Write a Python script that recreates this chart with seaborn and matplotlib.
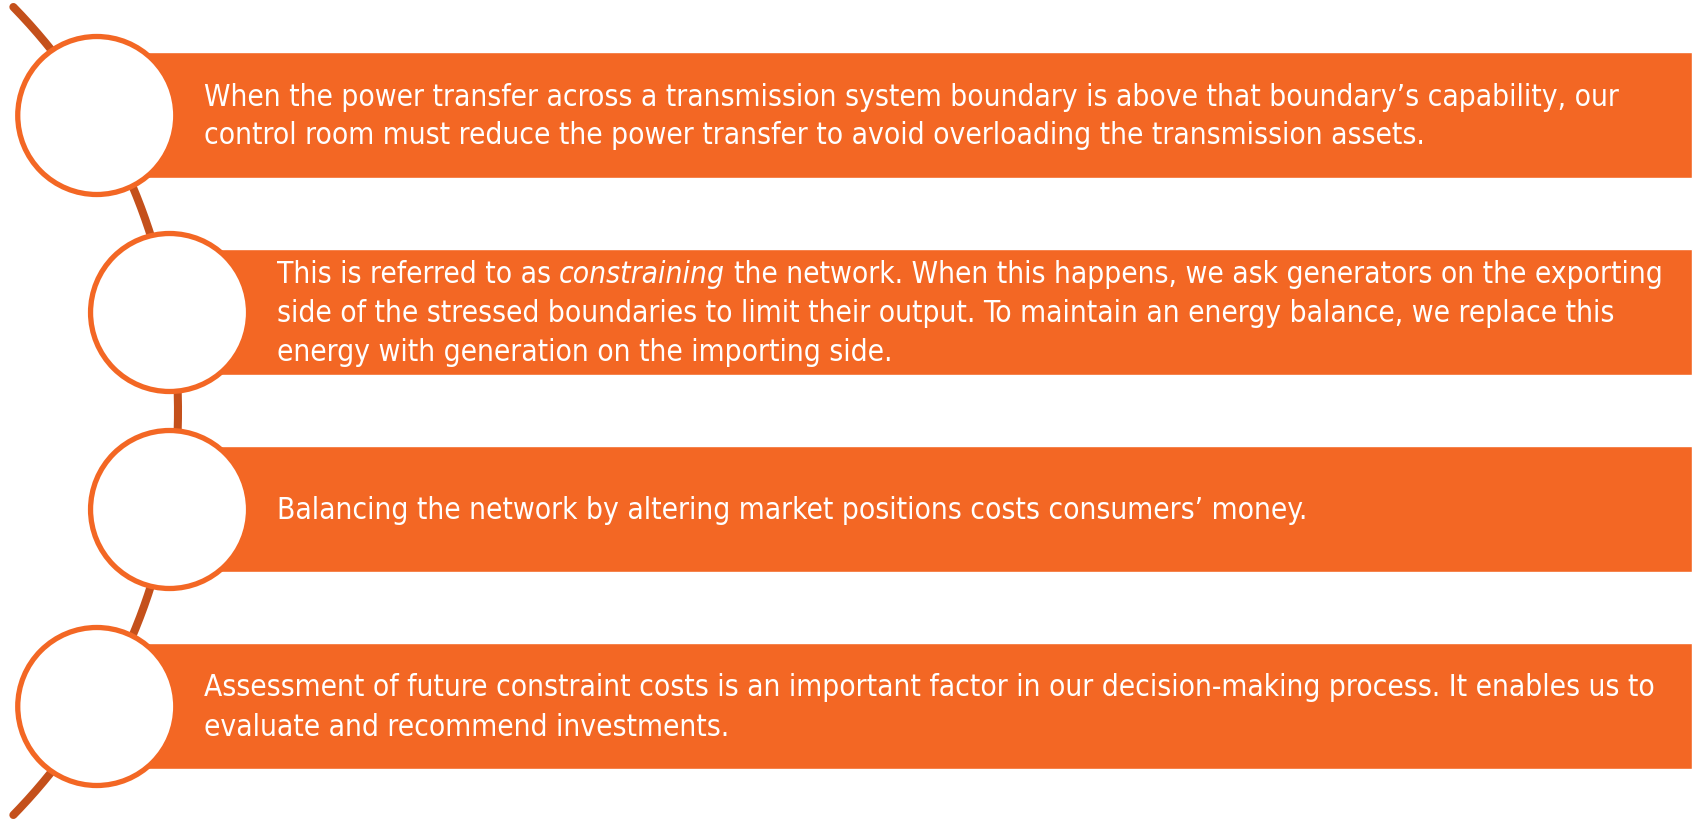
import numpy as np
import matplotlib
matplotlib.use("Agg")
import matplotlib.pyplot as plt
import seaborn as sns
from matplotlib import font_manager
from matplotlib.patches import Circle

# the four statements, one list per box, *...* marks italic words
statements = [
    ["When the power transfer across a transmission system boundary is above that boundary\u2019s capability, our",
     "control room must reduce the power transfer to avoid overloading the transmission assets."],
    ["This is referred to as *constraining* the network. When this happens, we ask generators on the exporting",
     "side of the stressed boundaries to limit their output. To maintain an energy balance, we replace this",
     "energy with generation on the importing side."],
    ["Balancing the network by altering market positions costs consumers\u2019 money."],
    ["Assessment of future constraint costs is an important factor in our decision-making process. It enables us to",
     "evaluate and recommend investments."],
]

orange = "#F36724"
arc_color = "#C4501B"

# narrow sans if we have one
fonts = font_manager.fontManager.ttflist
font_kw = dict(family="Liberation Sans")
if any(f.name == "Liberation Sans Narrow" for f in fonts):
    font_kw = dict(family="Liberation Sans Narrow")
elif any(f.name == "DejaVu Sans" and f.stretch == "condensed" for f in fonts):
    font_kw = dict(family="DejaVu Sans", stretch="condensed")

sns.set_theme(style="white")
plt.rcParams["font.family"] = [font_kw["family"], "DejaVu Sans"]

W, H = 1694, 821
fig = plt.figure(figsize=(W / 100, H / 100), dpi=100)
ax = fig.add_axes([0, 0, 1, 1])
ax.set_xlim(0, W)
ax.set_ylim(H, 0)
ax.axis("off")
renderer = fig.canvas.get_renderer()


def text_width(s, size, style="normal"):
    t = ax.text(0, 0, s, fontsize=size, style=style, **font_kw)
    w = t.get_window_extent(renderer).width
    t.remove()
    return w


# size the text so the first line spans the same width as in the original
size = 20 * 1413 / text_width(statements[0][0], 20)
space = text_width("a a", size) - text_width("aa", size)

# big arc the circles sit on
arc_cx, arc_cy, arc_r = -400, 411, 578
half = np.arcsin(404 / arc_r)
theta = np.linspace(-half, half, 300)
sns.lineplot(x=arc_cx + arc_r * np.cos(theta), y=arc_cy + arc_r * np.sin(theta),
             estimator=None, sort=False, color=arc_color, lw=5.8, ax=ax, zorder=1)
ax.lines[-1].set_solid_capstyle("round")

n = len(statements)
step = 197
row_y = arc_cy + (np.arange(n) - (n - 1) / 2) * step
circle_x = arc_cx + np.sqrt(arc_r ** 2 - (row_y - arc_cy) ** 2)
circ_r = 79

ax.barh(row_y, W - 2 - circle_x, left=circle_x, height=126, color=orange, zorder=2)

line_gap = 39
for cx, cy, lines in zip(circle_x, row_y, statements):
    ax.add_patch(Circle((cx, cy), circ_r, facecolor="white", edgecolor=orange, lw=3.8, zorder=3))
    k = len(lines)
    for i, line in enumerate(lines):
        base = cy + (i - (k - 1) / 2) * line_gap + 9.5
        x = cx + circ_r + 28
        for j, piece in enumerate(line.split("*")):
            style = "italic" if j % 2 else "normal"
            chunk = piece.strip()
            if piece.startswith(" ") and j:
                x += space
            if chunk:
                ax.text(x, base, chunk, color="white", fontsize=size, style=style,
                        ha="left", va="baseline", zorder=4, **font_kw)
                x += text_width(chunk, size, style)
            if piece.endswith(" "):
                x += space

fig.savefig("out.png", dpi=100)
